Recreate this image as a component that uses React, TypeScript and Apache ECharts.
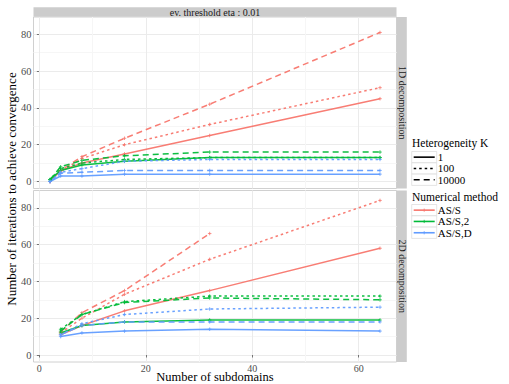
import React, { useEffect, useRef } from "react";
import * as echarts from "echarts";

// ---- data ----
const xs1D = [2, 4, 8, 16, 32, 64];
const xs2D = [4, 8, 16, 32, 64];
const methods = ["AS/S", "AS/S,2", "AS/S,D"];
const kValues = ["1", "100", "10000"];
const panelLabels = ["1D decomposition", "2D decomposition"];
const topStripLabel = "ev. threshold eta : 0.01";
const xTicks = [0, 20, 40, 60];
const xMinorTicks = [10, 30, 50];
const yTicks = [0, 20, 40, 60, 80];
const yMinorTicks = [10, 30, 50, 70];

// 1D decomposition
const oneD_ASS_K1 = [0, 6, 10, 15, 25, 45];
const oneD_ASS_K100 = [0, 5.5, 12.5, 20, 31, 51];
const oneD_ASS_K10000 = [0, 6, 13.5, 23.5, 42, 81];
const oneD_AS2_K1 = [1, 6, 9, 11, 13, 13];
const oneD_AS2_K100 = [1, 7, 10, 12, 13, 13];
const oneD_AS2_K10000 = [1, 8, 11.5, 14, 16, 16];
const oneD_ASD_K1 = [0, 3, 3, 4, 4, 4];
const oneD_ASD_K100 = [0, 5, 7, 11, 12, 12];
const oneD_ASD_K10000 = [0, 4.5, 5, 6, 6, 6];

// 2D decomposition
const twoD_ASS_K1 = [11, 16, 24, 35, 58];
const twoD_ASS_K100 = [12, 20, 33, 52, 84];
const twoD_ASS_K10000 = [12.5, 23, 35, 66, null];
const twoD_AS2_K1 = [12, 16, 18, 19, 19];
const twoD_AS2_K100 = [14, 22, 29, 32, 32];
const twoD_AS2_K10000 = [13, 22, 28.5, 31, 30];
const twoD_ASD_K1 = [10, 12, 13, 14, 13];
const twoD_ASD_K100 = [11, 17, 22, 25, 26];
const twoD_ASD_K10000 = [11, 16, 18, 18, 18];

const panelData = [
  {
    xs: xs1D,
    values: [
      [oneD_ASS_K1, oneD_ASS_K100, oneD_ASS_K10000],
      [oneD_AS2_K1, oneD_AS2_K100, oneD_AS2_K10000],
      [oneD_ASD_K1, oneD_ASD_K100, oneD_ASD_K10000],
    ],
  },
  {
    xs: xs2D,
    values: [
      [twoD_ASS_K1, twoD_ASS_K100, twoD_ASS_K10000],
      [twoD_AS2_K1, twoD_AS2_K100, twoD_AS2_K10000],
      [twoD_ASD_K1, twoD_ASD_K100, twoD_ASD_K10000],
    ],
  },
];

const COLORS = ["#F8766D", "#00BA38", "#619CFF"];
const DASHES: any[] = ["solid", [2.5, 3], [6, 4]];
const FONT = "Liberation Serif";

const X_MIN = -1.1;
const X_MAX = 67.1;
const Y_MIN = -3.8;
const Y_MAX = 89.4;

const GRID_LEFT = 33.5;
const GRID_W = 363;
const GRID_TOPS = [17, 190.5];
const GRID_H = 171.5;

const PLUS = "path://M0,5L10,5M5,0L5,10";

function txt(text: string, x: number, y: number, size: number, align: string, extra: any = {}, fill = "#000") {
  return {
    type: "text",
    x,
    y,
    ...extra,
    style: {
      text,
      fill,
      fontFamily: FONT,
      fontSize: size,
      textAlign: align,
      textVerticalAlign: "middle",
    },
  };
}

export default function App() {
  const ref = useRef<HTMLDivElement>(null);
  useEffect(() => {
    if (!ref.current) return;
    const chart = echarts.init(ref.current, null, { renderer: "svg" });

    const grids: any[] = [];
    const xAxes: any[] = [];
    const yAxes: any[] = [];
    const series: any[] = [];

    panelData.forEach((p, pi) => {
      grids.push({
        left: GRID_LEFT,
        top: GRID_TOPS[pi],
        width: GRID_W,
        height: GRID_H,
        show: true,
        backgroundColor: "#FFFFFF",
        borderColor: "#C4C4C4",
        borderWidth: 0.8,
        containLabel: false,
      });
      const isBottom = pi === panelData.length - 1;
      xAxes.push({
        type: "value",
        gridIndex: pi,
        min: X_MIN,
        max: X_MAX,
        axisLine: { show: false },
        axisTick: {
          show: isBottom,
          length: 2.5,
          customValues: xTicks,
          lineStyle: { color: "#555", width: 0.8 },
        },
        axisLabel: {
          show: isBottom,
          customValues: xTicks,
          margin: 1,
          color: "#4D4D4D",
          fontSize: 10,
          fontFamily: FONT,
        },
        splitLine: { show: true, lineStyle: { color: "#EBEBEB", width: 1 } },
        z: 1,
      });
      xAxes.push({
        type: "value",
        gridIndex: pi,
        min: X_MIN,
        max: X_MAX,
        axisLine: { show: false },
        axisTick: { show: false, customValues: xMinorTicks },
        axisLabel: { show: false, customValues: xMinorTicks },
        splitLine: { show: true, lineStyle: { color: "#F6F6F6", width: 1 } },
        z: 0,
      });
      yAxes.push({
        type: "value",
        gridIndex: pi,
        min: Y_MIN,
        max: Y_MAX,
        axisLine: { show: false },
        axisTick: {
          show: true,
          length: 2.5,
          customValues: yTicks,
          lineStyle: { color: "#555", width: 0.8 },
        },
        axisLabel: {
          show: true,
          customValues: yTicks,
          margin: 2,
          color: "#4D4D4D",
          fontSize: 10.5,
          fontFamily: FONT,
        },
        splitLine: { show: true, lineStyle: { color: "#EBEBEB", width: 1 } },
      });
      yAxes.push({
        type: "value",
        gridIndex: pi,
        min: Y_MIN,
        max: Y_MAX,
        axisLine: { show: false },
        axisTick: { show: false, customValues: yMinorTicks },
        axisLabel: { show: false, customValues: yMinorTicks },
        splitLine: { show: true, lineStyle: { color: "#F6F6F6", width: 1 } },
      });

      p.values.forEach((byK, mi) => {
        byK.forEach((vals, ki) => {
          const data: any[] = [];
          vals.forEach((v, i) => {
            if (v !== null && v !== undefined) data.push([p.xs[i], v]);
          });
          series.push({
            type: "line",
            name: methods[mi] + " K=" + kValues[ki],
            xAxisIndex: pi * 2,
            yAxisIndex: pi * 2,
            data,
            symbol: PLUS,
            symbolSize: 3.5,
            showSymbol: true,
            itemStyle: { color: COLORS[mi], borderColor: COLORS[mi], borderWidth: 0.8 },
            lineStyle: { color: COLORS[mi], width: 1.5, type: DASHES[ki], opacity: 0.95 },
            silent: true,
            z: 3,
          });
        });
      });
    });

    const graphic: any[] = [];
    graphic.push({
      type: "rect",
      shape: { x: GRID_LEFT, y: 7.3, width: GRID_W, height: 9.5 },
      style: { fill: "#CCCCCC" },
    });
    graphic.push(txt(topStripLabel, GRID_LEFT + GRID_W / 2, 12.3, 10, "center", {}, "#1A1A1A"));
    GRID_TOPS.forEach((t, i) => {
      graphic.push({
        type: "rect",
        shape: { x: GRID_LEFT + GRID_W + 0.3, y: t, width: 10, height: GRID_H },
        style: { fill: "#CCCCCC" },
      });
      graphic.push(
        txt(panelLabels[i], GRID_LEFT + GRID_W + 5.5, t + GRID_H / 2, 10, "center", { rotation: -Math.PI / 2 }, "#1A1A1A")
      );
    });
    graphic.push(txt("Number of subdomains", GRID_LEFT + GRID_W / 2, 377.3, 12.5, "center"));
    graphic.push(
      txt("Number of iterations to achieve convergence", 11.5, 189, 13, "center", { rotation: Math.PI / 2 })
    );

    const KEY_X = 411.7;
    const KEY_W = 25;
    const KEY_H = 11.3;
    const legendBlock = (
      title: string,
      titleY: number,
      firstRowTop: number,
      labels: string[],
      colorOf: (i: number) => string,
      dashOf: (i: number) => any,
      plus: boolean
    ) => {
      graphic.push(txt(title, 412, titleY, 11.5, "left"));
      labels.forEach((lab, i) => {
        const top = firstRowTop + i * KEY_H;
        const cy = top + KEY_H / 2;
        graphic.push({
          type: "rect",
          shape: { x: KEY_X, y: top, width: KEY_W, height: KEY_H },
          style: { fill: "#FFFFFF", stroke: "#DADADA", lineWidth: 0.7 },
        });
        const d = dashOf(i);
        graphic.push({
          type: "line",
          shape: { x1: KEY_X + 2, y1: cy, x2: KEY_X + KEY_W - 2, y2: cy },
          style: {
            stroke: colorOf(i),
            lineWidth: 1.6,
            lineDash: d === "solid" ? null : d,
          },
        });
        if (plus) {
          graphic.push({
            type: "line",
            shape: { x1: KEY_X + KEY_W / 2, y1: cy - 1.6, x2: KEY_X + KEY_W / 2, y2: cy + 1.6 },
            style: { stroke: colorOf(i), lineWidth: 0.8 },
          });
        }
        graphic.push(txt(lab, KEY_X + KEY_W + 1, cy, 11, "left"));
      });
    };
    legendBlock("Heterogeneity K", 143.3, 151.5, kValues, () => "#000000", (i) => DASHES[i], false);
    legendBlock("Numerical method", 197, 204.5, methods, (i) => COLORS[i], () => "solid", true);

    chart.setOption({
      animation: false,
      backgroundColor: "#FFFFFF",
      grid: grids,
      xAxis: xAxes,
      yAxis: yAxes,
      series,
      graphic,
    });
    return () => chart.dispose();
  }, []);
  return <div ref={ref} style={{ width: 509, height: 384, position: "absolute", left: 0, top: 0 }} />;
}
